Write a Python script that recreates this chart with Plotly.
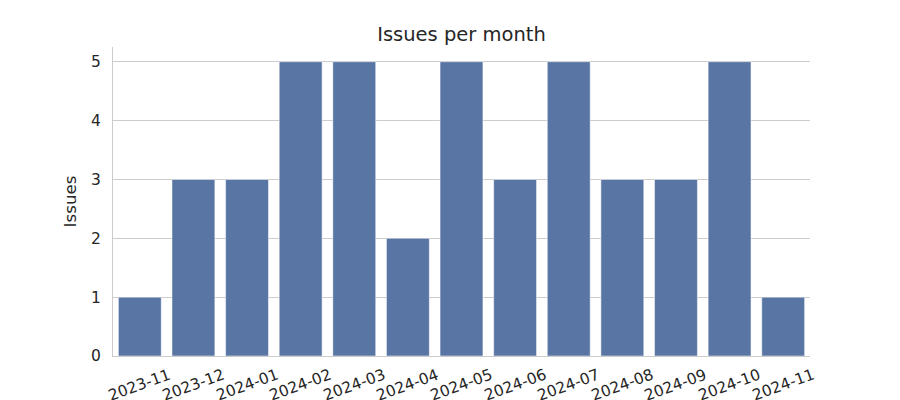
import plotly.graph_objects as go

months = ["2023-11", "2023-12", "2024-01", "2024-02", "2024-03", "2024-04", "2024-05",
          "2024-06", "2024-07", "2024-08", "2024-09", "2024-10", "2024-11"]
issues = [1, 3, 3, 5, 5, 2, 5, 3, 5, 3, 3, 5, 1]

fig = go.Figure(go.Bar(
    x=months, y=issues,
    marker=dict(color="#5875a4", line=dict(color="rgba(255,255,255,0.5)", width=1)),
))

for m in months:
    fig.add_annotation(
        x=m, y=0, xref="x", yref="paper", text=m, showarrow=False,
        textangle=-20, xanchor="center", yanchor="middle", yshift=-29,
        font=dict(size=15.5, color="#262626", family="DejaVu Sans"),
    )

fig.update_layout(
    width=900, height=400,
    margin=dict(l=113, r=90, t=47, b=44, autoexpand=False),
    paper_bgcolor="white", plot_bgcolor="white",
    font=dict(family="DejaVu Sans", color="#262626", size=15.5),
    title=dict(text="Issues per month", x=461.5 / 900, xanchor="center",
               y=1 - 34 / 400, yanchor="middle", font=dict(size=19.5, color="#262626")),
    bargap=0.2,
    showlegend=False,
)
fig.update_xaxes(
    type="category", range=[-0.5, 12.5], automargin=False,
    showgrid=False, showline=True, linecolor="#cccccc", linewidth=1.25,
    ticks="", showticklabels=False,
)
fig.update_yaxes(
    range=[0, 5.25], tickvals=[0, 1, 2, 3, 4, 5], automargin=False,
    showgrid=True, gridcolor="#cccccc", gridwidth=1,
    showline=True, linecolor="#cccccc", linewidth=1.25, zeroline=False,
    ticks="", ticklabelstandoff=8,
    title=dict(text="Issues", font=dict(size=16.7, color="#262626"), standoff=10),
    tickfont=dict(size=15.5, color="#262626"),
)

fig.write_html("out.html")
